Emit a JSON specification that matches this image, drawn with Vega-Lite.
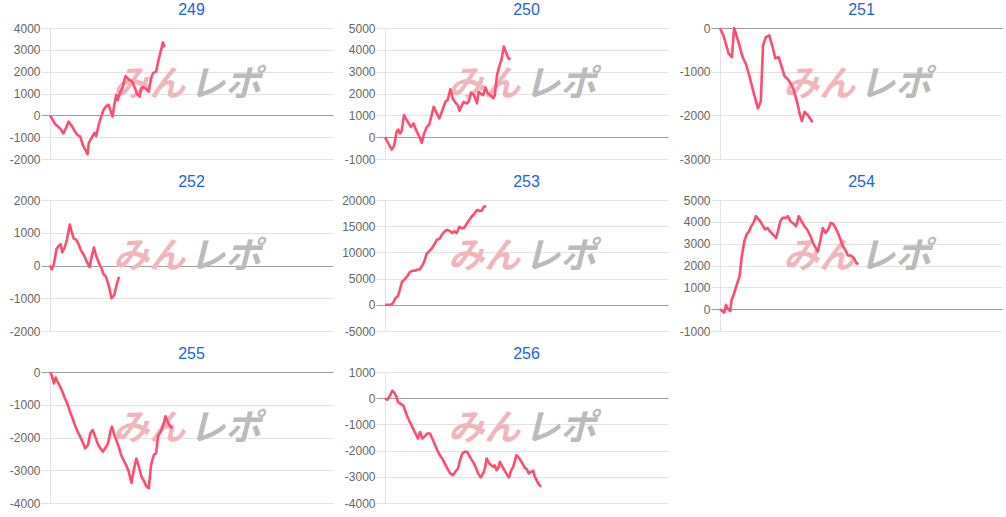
{
  "$schema": "https://vega.github.io/schema/vega-lite/v6.json",
  "padding": {"left": 5, "top": 2, "right": 0, "bottom": 0},
  "background": "white",
  "config": {
    "view": {"stroke": null},
    "title": {"font": "Liberation Sans", "fontSize": 16, "fontWeight": "normal", "color": "#1a66d9", "offset": 4},
    "axisY": {
      "grid": true,
      "gridColor": {"condition": {"test": "datum.value === 0", "value": "#9e9e9e"}, "value": "#e3e3e3"},
      "tickColor": {"condition": {"test": "datum.value === 0", "value": "#9e9e9e"}, "value": "#e3e3e3"},
      "tickSize": 9,
      "domainColor": "#e3e3e3",
      "labelColor": "#666666",
      "labelFont": "Liberation Sans",
      "labelFontSize": 12,
      "labelPadding": 1,
      "labelOverlap": false,
      "labelBound": false,
      "labelExpr": "'' + datum.value",
      "title": null,
      "minExtent": 45,
      "maxExtent": 45
    }
  },
  "columns": 3,
  "spacing": {"row": 9, "column": 7},
  "datasets": {
    "s249": [
      {"x": 0, "v": 0}, {"x": 0.9, "v": -200}, {"x": 1.8, "v": -400}, {"x": 2.6, "v": -490}, {"x": 3.6, "v": -600}, {"x": 4.7, "v": -830}, {"x": 5.6, "v": -600}, {"x": 6.5, "v": -290}, {"x": 7.7, "v": -490}, {"x": 8.9, "v": -750}, {"x": 9.7, "v": -900}, {"x": 10.7, "v": -980}, {"x": 11.6, "v": -1360}, {"x": 12.4, "v": -1560}, {"x": 13.3, "v": -1780}, {"x": 13.7, "v": -1260}, {"x": 14.8, "v": -1010}, {"x": 15.7, "v": -800}, {"x": 16.3, "v": -950}, {"x": 17.2, "v": -440}, {"x": 18.1, "v": -60}, {"x": 18.9, "v": 245}, {"x": 19.9, "v": 430}, {"x": 20.7, "v": 475}, {"x": 21.5, "v": 170}, {"x": 22.1, "v": -60}, {"x": 22.7, "v": 475}, {"x": 23.4, "v": 935}, {"x": 23.9, "v": 700}, {"x": 24.9, "v": 1090}, {"x": 25.6, "v": 1240}, {"x": 26.3, "v": 1620}, {"x": 26.7, "v": 1800}, {"x": 27.8, "v": 1650}, {"x": 29.0, "v": 1550}, {"x": 29.9, "v": 1290}, {"x": 30.8, "v": 965}, {"x": 31.7, "v": 860}, {"x": 32.2, "v": 1240}, {"x": 32.9, "v": 1290}, {"x": 34.1, "v": 1195}, {"x": 34.9, "v": 1090}, {"x": 35.7, "v": 1700}, {"x": 36.4, "v": 1930}, {"x": 37.5, "v": 2000}, {"x": 38.1, "v": 2390}, {"x": 39.1, "v": 2920}, {"x": 39.9, "v": 3340}, {"x": 40.5, "v": 3110}
    ],
    "s250": [
      {"x": 0, "v": 0}, {"x": 1.2, "v": -290}, {"x": 2.4, "v": -570}, {"x": 3.2, "v": -410}, {"x": 4.1, "v": 245}, {"x": 4.7, "v": 350}, {"x": 5.3, "v": 170}, {"x": 5.9, "v": 290}, {"x": 6.7, "v": 1010}, {"x": 7.7, "v": 780}, {"x": 9.1, "v": 475}, {"x": 10.1, "v": 630}, {"x": 11.0, "v": 320}, {"x": 12.2, "v": 0}, {"x": 13.0, "v": -260}, {"x": 13.8, "v": 170}, {"x": 14.8, "v": 475}, {"x": 15.7, "v": 600}, {"x": 17.2, "v": 1390}, {"x": 18.3, "v": 1090}, {"x": 19.2, "v": 860}, {"x": 20.1, "v": 1160}, {"x": 21.3, "v": 1620}, {"x": 22.1, "v": 1700}, {"x": 23.1, "v": 2190}, {"x": 23.9, "v": 1780}, {"x": 24.9, "v": 1580}, {"x": 25.7, "v": 1470}, {"x": 26.3, "v": 1210}, {"x": 26.9, "v": 1390}, {"x": 27.8, "v": 1620}, {"x": 28.8, "v": 1550}, {"x": 29.6, "v": 1620}, {"x": 30.4, "v": 2040}, {"x": 31.4, "v": 1930}, {"x": 32.5, "v": 1550}, {"x": 33.1, "v": 2080}, {"x": 33.7, "v": 2000}, {"x": 34.7, "v": 1930}, {"x": 35.5, "v": 2280}, {"x": 36.3, "v": 2000}, {"x": 37.3, "v": 1930}, {"x": 38.2, "v": 1780}, {"x": 38.8, "v": 1930}, {"x": 39.6, "v": 2850}, {"x": 40.2, "v": 3160}, {"x": 41.2, "v": 3570}, {"x": 42.0, "v": 4150}, {"x": 42.8, "v": 3870}, {"x": 43.6, "v": 3610}, {"x": 44.4, "v": 3570}
    ],
    "s251": [
      {"x": 0, "v": 0}, {"x": 1.2, "v": -170}, {"x": 2.4, "v": -430}, {"x": 3.0, "v": -580}, {"x": 4.2, "v": -670}, {"x": 5.0, "v": 0}, {"x": 6.0, "v": -210}, {"x": 7.2, "v": -480}, {"x": 8.0, "v": -670}, {"x": 9.2, "v": -830}, {"x": 10.4, "v": -1100}, {"x": 11.6, "v": -1410}, {"x": 12.6, "v": -1650}, {"x": 13.4, "v": -1840}, {"x": 14.4, "v": -1690}, {"x": 15.2, "v": -400}, {"x": 16.2, "v": -210}, {"x": 17.4, "v": -170}, {"x": 18.6, "v": -440}, {"x": 19.5, "v": -690}, {"x": 20.7, "v": -670}, {"x": 21.9, "v": -910}, {"x": 22.8, "v": -1100}, {"x": 24.0, "v": -1180}, {"x": 25.1, "v": -1290}, {"x": 26.0, "v": -1410}, {"x": 27.2, "v": -1680}, {"x": 28.1, "v": -1950}, {"x": 28.9, "v": -2130}, {"x": 29.9, "v": -1920}, {"x": 31.1, "v": -2000}, {"x": 32.7, "v": -2160}
    ],
    "s252": [
      {"x": 0, "v": 0}, {"x": 0.6, "v": -120}, {"x": 1.4, "v": 50}, {"x": 2.3, "v": 500}, {"x": 3.1, "v": 600}, {"x": 3.8, "v": 650}, {"x": 4.3, "v": 400}, {"x": 5.2, "v": 550}, {"x": 6.0, "v": 800}, {"x": 7.0, "v": 1250}, {"x": 7.6, "v": 1050}, {"x": 8.4, "v": 820}, {"x": 9.3, "v": 780}, {"x": 10.1, "v": 650}, {"x": 11.0, "v": 450}, {"x": 12.0, "v": 320}, {"x": 12.8, "v": 150}, {"x": 14.0, "v": -50}, {"x": 14.8, "v": 300}, {"x": 15.5, "v": 550}, {"x": 16.3, "v": 300}, {"x": 17.4, "v": 50}, {"x": 18.3, "v": -100}, {"x": 18.8, "v": -250}, {"x": 19.8, "v": -350}, {"x": 20.9, "v": -650}, {"x": 21.7, "v": -1000}, {"x": 22.7, "v": -900}, {"x": 23.5, "v": -600}, {"x": 24.4, "v": -350}
    ],
    "s253": [
      {"x": 0, "v": 0}, {"x": 1.2, "v": 0}, {"x": 2.2, "v": 0}, {"x": 3.0, "v": 500}, {"x": 3.6, "v": 1200}, {"x": 4.6, "v": 1700}, {"x": 5.2, "v": 2800}, {"x": 6.0, "v": 4400}, {"x": 7.0, "v": 4900}, {"x": 7.8, "v": 5400}, {"x": 8.7, "v": 6200}, {"x": 9.6, "v": 6500}, {"x": 10.6, "v": 6500}, {"x": 11.4, "v": 6700}, {"x": 12.3, "v": 6800}, {"x": 13.3, "v": 7600}, {"x": 14.1, "v": 8600}, {"x": 14.7, "v": 9700}, {"x": 15.7, "v": 10300}, {"x": 16.6, "v": 10800}, {"x": 17.5, "v": 11600}, {"x": 18.3, "v": 12400}, {"x": 19.3, "v": 12600}, {"x": 20.1, "v": 13400}, {"x": 21.1, "v": 14000}, {"x": 21.9, "v": 14300}, {"x": 22.9, "v": 14100}, {"x": 23.7, "v": 13700}, {"x": 24.5, "v": 14000}, {"x": 25.3, "v": 13700}, {"x": 26.3, "v": 14900}, {"x": 27.1, "v": 14600}, {"x": 28.0, "v": 14700}, {"x": 28.9, "v": 15500}, {"x": 29.9, "v": 16300}, {"x": 30.7, "v": 16900}, {"x": 31.6, "v": 17400}, {"x": 32.5, "v": 18100}, {"x": 33.4, "v": 17900}, {"x": 34.3, "v": 18000}, {"x": 34.9, "v": 18700}, {"x": 35.8, "v": 18800}
    ],
    "s254": [
      {"x": 0, "v": 0}, {"x": 0.8, "v": -90}, {"x": 1.5, "v": -150}, {"x": 2.1, "v": 200}, {"x": 2.7, "v": 30}, {"x": 3.6, "v": -90}, {"x": 4.1, "v": 420}, {"x": 5.0, "v": 720}, {"x": 5.9, "v": 1110}, {"x": 6.9, "v": 1500}, {"x": 7.7, "v": 2420}, {"x": 8.6, "v": 3110}, {"x": 9.5, "v": 3450}, {"x": 10.3, "v": 3570}, {"x": 11.0, "v": 3800}, {"x": 11.8, "v": 3950}, {"x": 12.7, "v": 4260}, {"x": 13.4, "v": 4150}, {"x": 14.2, "v": 4030}, {"x": 15.0, "v": 3850}, {"x": 16.0, "v": 3650}, {"x": 16.8, "v": 3720}, {"x": 17.6, "v": 3570}, {"x": 18.7, "v": 3420}, {"x": 19.8, "v": 3260}, {"x": 20.5, "v": 3570}, {"x": 21.3, "v": 4030}, {"x": 22.1, "v": 4180}, {"x": 23.1, "v": 4180}, {"x": 24.0, "v": 4260}, {"x": 24.9, "v": 4030}, {"x": 25.7, "v": 3950}, {"x": 26.9, "v": 3800}, {"x": 27.8, "v": 4260}, {"x": 28.8, "v": 4030}, {"x": 29.8, "v": 3800}, {"x": 30.8, "v": 3650}, {"x": 32.0, "v": 3340}, {"x": 32.9, "v": 3030}, {"x": 33.7, "v": 2830}, {"x": 34.6, "v": 2650}, {"x": 35.5, "v": 3180}, {"x": 36.3, "v": 3720}, {"x": 37.3, "v": 3490}, {"x": 38.2, "v": 3650}, {"x": 39.1, "v": 3950}, {"x": 40.0, "v": 3900}, {"x": 40.8, "v": 3720}, {"x": 41.7, "v": 3490}, {"x": 42.6, "v": 3180}, {"x": 43.4, "v": 2880}, {"x": 44.4, "v": 2680}, {"x": 45.2, "v": 2460}, {"x": 46.2, "v": 2460}, {"x": 47.3, "v": 2340}, {"x": 48.2, "v": 2110}, {"x": 48.9, "v": 2060}
    ],
    "s255": [
      {"x": 0, "v": 0}, {"x": 0.6, "v": -100}, {"x": 1.4, "v": -350}, {"x": 2.0, "v": -170}, {"x": 2.7, "v": -300}, {"x": 3.6, "v": -450}, {"x": 4.4, "v": -610}, {"x": 5.3, "v": -810}, {"x": 6.3, "v": -1010}, {"x": 7.1, "v": -1220}, {"x": 8.0, "v": -1420}, {"x": 8.9, "v": -1650}, {"x": 9.8, "v": -1820}, {"x": 10.7, "v": -1980}, {"x": 11.5, "v": -2130}, {"x": 12.4, "v": -2330}, {"x": 13.4, "v": -2230}, {"x": 14.2, "v": -1880}, {"x": 15.1, "v": -1770}, {"x": 16.0, "v": -1980}, {"x": 16.8, "v": -2180}, {"x": 17.8, "v": -2330}, {"x": 18.7, "v": -2430}, {"x": 19.5, "v": -2330}, {"x": 20.5, "v": -2180}, {"x": 21.3, "v": -1830}, {"x": 21.9, "v": -1670}, {"x": 22.6, "v": -1880}, {"x": 23.4, "v": -2080}, {"x": 24.3, "v": -2280}, {"x": 25.1, "v": -2530}, {"x": 26.0, "v": -2690}, {"x": 26.9, "v": -2840}, {"x": 27.8, "v": -3040}, {"x": 28.8, "v": -3390}, {"x": 29.6, "v": -2990}, {"x": 30.5, "v": -2640}, {"x": 31.4, "v": -2890}, {"x": 32.3, "v": -3190}, {"x": 33.1, "v": -3310}, {"x": 34.0, "v": -3480}, {"x": 34.9, "v": -3550}, {"x": 35.7, "v": -2840}, {"x": 36.7, "v": -2530}, {"x": 37.5, "v": -2480}, {"x": 38.2, "v": -1950}, {"x": 39.1, "v": -1820}, {"x": 39.9, "v": -1650}, {"x": 40.8, "v": -1350}, {"x": 41.7, "v": -1550}, {"x": 42.4, "v": -1650}, {"x": 43.2, "v": -1720}
    ],
    "s256": [
      {"x": 0, "v": 0}, {"x": 0.8, "v": -60}, {"x": 1.8, "v": 100}, {"x": 2.6, "v": 290}, {"x": 3.4, "v": 190}, {"x": 4.1, "v": 40}, {"x": 4.6, "v": -150}, {"x": 5.5, "v": -215}, {"x": 6.5, "v": -280}, {"x": 7.3, "v": -530}, {"x": 8.2, "v": -785}, {"x": 9.1, "v": -975}, {"x": 9.9, "v": -1160}, {"x": 10.8, "v": -1350}, {"x": 11.6, "v": -1540}, {"x": 12.4, "v": -1290}, {"x": 13.2, "v": -1540}, {"x": 14.0, "v": -1455}, {"x": 14.9, "v": -1350}, {"x": 15.9, "v": -1350}, {"x": 16.7, "v": -1540}, {"x": 17.5, "v": -1735}, {"x": 18.5, "v": -1990}, {"x": 19.4, "v": -2180}, {"x": 20.2, "v": -2300}, {"x": 21.1, "v": -2490}, {"x": 22.0, "v": -2680}, {"x": 22.9, "v": -2850}, {"x": 24.0, "v": -2940}, {"x": 24.9, "v": -2810}, {"x": 25.8, "v": -2680}, {"x": 26.5, "v": -2370}, {"x": 27.3, "v": -2110}, {"x": 28.1, "v": -2050}, {"x": 29.1, "v": -2050}, {"x": 30.0, "v": -2240}, {"x": 31.1, "v": -2430}, {"x": 32.0, "v": -2620}, {"x": 32.9, "v": -2870}, {"x": 33.8, "v": -3020}, {"x": 34.7, "v": -2870}, {"x": 35.3, "v": -2680}, {"x": 35.9, "v": -2300}, {"x": 36.7, "v": -2470}, {"x": 37.5, "v": -2560}, {"x": 38.2, "v": -2620}, {"x": 38.8, "v": -2560}, {"x": 39.4, "v": -2750}, {"x": 40.0, "v": -2680}, {"x": 40.6, "v": -2430}, {"x": 41.4, "v": -2590}, {"x": 42.2, "v": -2750}, {"x": 43.2, "v": -2940}, {"x": 43.8, "v": -3020}, {"x": 44.6, "v": -2750}, {"x": 45.3, "v": -2620}, {"x": 45.8, "v": -2430}, {"x": 46.4, "v": -2180}, {"x": 47.1, "v": -2240}, {"x": 47.9, "v": -2370}, {"x": 48.7, "v": -2520}, {"x": 49.4, "v": -2650}, {"x": 50.2, "v": -2720}, {"x": 50.8, "v": -2870}, {"x": 51.6, "v": -2810}, {"x": 52.4, "v": -2770}, {"x": 52.9, "v": -2980}, {"x": 53.8, "v": -3190}, {"x": 54.6, "v": -3320}, {"x": 55.1, "v": -3380}
    ]
  },
  "concat": [
    {
      "title": "249", "width": 283, "height": 131,
      "layer": [
        {"data": {"values": [{}]}, "mark": {"type": "text", "text": "みん", "font": "Noto Sans CJK JP", "fontSize": 36, "fontWeight": "bold", "fontStyle": "italic", "color": "#f1b6bb", "align": "right", "baseline": "middle", "dx": -2},
         "encoding": {"x": {"datum": 48.5, "type": "quantitative", "scale": {"domain": [0, 100]}, "axis": null}, "y": {"datum": 1390, "type": "quantitative", "scale": {"domain": [-2000, 4000], "nice": false, "zero": false}, "axis": {"values": [-2000, -1000, 0, 1000, 2000, 3000, 4000]}}}},
        {"data": {"values": [{}]}, "mark": {"type": "text", "text": "レポ", "font": "Noto Sans CJK JP", "fontSize": 36, "fontWeight": "bold", "fontStyle": "italic", "color": "#bbbbbb", "align": "left", "baseline": "middle", "dx": 2},
         "encoding": {"x": {"datum": 48.5, "type": "quantitative", "axis": null}, "y": {"datum": 1390, "type": "quantitative", "axis": {"values": [-2000, -1000, 0, 1000, 2000, 3000, 4000]}}}},
        {"data": {"name": "s249"}, "mark": {"type": "line", "color": "#ff4d6d", "strokeWidth": 2.6, "strokeJoin": "round"},
         "encoding": {"x": {"field": "x", "type": "quantitative", "scale": {"domain": [0, 100]}, "axis": null},
                      "y": {"field": "v", "type": "quantitative", "scale": {"domain": [-2000, 4000], "nice": false, "zero": false}, "axis": {"values": [-2000, -1000, 0, 1000, 2000, 3000, 4000]}}}}
      ]
    },
    {
      "title": "250", "width": 283, "height": 131,
      "layer": [
        {"data": {"values": [{}]}, "mark": {"type": "text", "text": "みん", "font": "Noto Sans CJK JP", "fontSize": 36, "fontWeight": "bold", "fontStyle": "italic", "color": "#f1b6bb", "align": "right", "baseline": "middle", "dx": -2},
         "encoding": {"x": {"datum": 48.5, "type": "quantitative", "scale": {"domain": [0, 100]}, "axis": null}, "y": {"datum": 2390, "type": "quantitative", "scale": {"domain": [-1000, 5000], "nice": false, "zero": false}, "axis": {"values": [-1000, 0, 1000, 2000, 3000, 4000, 5000]}}}},
        {"data": {"values": [{}]}, "mark": {"type": "text", "text": "レポ", "font": "Noto Sans CJK JP", "fontSize": 36, "fontWeight": "bold", "fontStyle": "italic", "color": "#bbbbbb", "align": "left", "baseline": "middle", "dx": 2},
         "encoding": {"x": {"datum": 48.5, "type": "quantitative", "axis": null}, "y": {"datum": 2390, "type": "quantitative", "axis": {"values": [-1000, 0, 1000, 2000, 3000, 4000, 5000]}}}},
        {"data": {"name": "s250"}, "mark": {"type": "line", "color": "#ff4d6d", "strokeWidth": 2.6, "strokeJoin": "round"},
         "encoding": {"x": {"field": "x", "type": "quantitative", "scale": {"domain": [0, 100]}, "axis": null},
                      "y": {"field": "v", "type": "quantitative", "scale": {"domain": [-1000, 5000], "nice": false, "zero": false}, "axis": {"values": [-1000, 0, 1000, 2000, 3000, 4000, 5000]}}}}
      ]
    },
    {
      "title": "251", "width": 283, "height": 131,
      "layer": [
        {"data": {"values": [{}]}, "mark": {"type": "text", "text": "みん", "font": "Noto Sans CJK JP", "fontSize": 36, "fontWeight": "bold", "fontStyle": "italic", "color": "#f1b6bb", "align": "right", "baseline": "middle", "dx": -2},
         "encoding": {"x": {"datum": 48.5, "type": "quantitative", "scale": {"domain": [0, 100]}, "axis": null}, "y": {"datum": -1305, "type": "quantitative", "scale": {"domain": [-3000, 0], "nice": false, "zero": false}, "axis": {"values": [-3000, -2000, -1000, 0]}}}},
        {"data": {"values": [{}]}, "mark": {"type": "text", "text": "レポ", "font": "Noto Sans CJK JP", "fontSize": 36, "fontWeight": "bold", "fontStyle": "italic", "color": "#bbbbbb", "align": "left", "baseline": "middle", "dx": 2},
         "encoding": {"x": {"datum": 48.5, "type": "quantitative", "axis": null}, "y": {"datum": -1305, "type": "quantitative", "axis": {"values": [-3000, -2000, -1000, 0]}}}},
        {"data": {"name": "s251"}, "mark": {"type": "line", "color": "#ff4d6d", "strokeWidth": 2.6, "strokeJoin": "round"},
         "encoding": {"x": {"field": "x", "type": "quantitative", "scale": {"domain": [0, 100]}, "axis": null},
                      "y": {"field": "v", "type": "quantitative", "scale": {"domain": [-3000, 0], "nice": false, "zero": false}, "axis": {"values": [-3000, -2000, -1000, 0]}}}}
      ]
    },
    {
      "title": "252", "width": 283, "height": 131,
      "layer": [
        {"data": {"values": [{}]}, "mark": {"type": "text", "text": "みん", "font": "Noto Sans CJK JP", "fontSize": 36, "fontWeight": "bold", "fontStyle": "italic", "color": "#f1b6bb", "align": "right", "baseline": "middle", "dx": -2},
         "encoding": {"x": {"datum": 48.5, "type": "quantitative", "scale": {"domain": [0, 100]}, "axis": null}, "y": {"datum": 260, "type": "quantitative", "scale": {"domain": [-2000, 2000], "nice": false, "zero": false}, "axis": {"values": [-2000, -1000, 0, 1000, 2000]}}}},
        {"data": {"values": [{}]}, "mark": {"type": "text", "text": "レポ", "font": "Noto Sans CJK JP", "fontSize": 36, "fontWeight": "bold", "fontStyle": "italic", "color": "#bbbbbb", "align": "left", "baseline": "middle", "dx": 2},
         "encoding": {"x": {"datum": 48.5, "type": "quantitative", "axis": null}, "y": {"datum": 260, "type": "quantitative", "axis": {"values": [-2000, -1000, 0, 1000, 2000]}}}},
        {"data": {"name": "s252"}, "mark": {"type": "line", "color": "#ff4d6d", "strokeWidth": 2.6, "strokeJoin": "round"},
         "encoding": {"x": {"field": "x", "type": "quantitative", "scale": {"domain": [0, 100]}, "axis": null},
                      "y": {"field": "v", "type": "quantitative", "scale": {"domain": [-2000, 2000], "nice": false, "zero": false}, "axis": {"values": [-2000, -1000, 0, 1000, 2000]}}}}
      ]
    },
    {
      "title": "253", "width": 283, "height": 131,
      "layer": [
        {"data": {"values": [{}]}, "mark": {"type": "text", "text": "みん", "font": "Noto Sans CJK JP", "fontSize": 36, "fontWeight": "bold", "fontStyle": "italic", "color": "#f1b6bb", "align": "right", "baseline": "middle", "dx": -2},
         "encoding": {"x": {"datum": 48.5, "type": "quantitative", "scale": {"domain": [0, 100]}, "axis": null}, "y": {"datum": 9125, "type": "quantitative", "scale": {"domain": [-5000, 20000], "nice": false, "zero": false}, "axis": {"values": [-5000, 0, 5000, 10000, 15000, 20000]}}}},
        {"data": {"values": [{}]}, "mark": {"type": "text", "text": "レポ", "font": "Noto Sans CJK JP", "fontSize": 36, "fontWeight": "bold", "fontStyle": "italic", "color": "#bbbbbb", "align": "left", "baseline": "middle", "dx": 2},
         "encoding": {"x": {"datum": 48.5, "type": "quantitative", "axis": null}, "y": {"datum": 9125, "type": "quantitative", "axis": {"values": [-5000, 0, 5000, 10000, 15000, 20000]}}}},
        {"data": {"name": "s253"}, "mark": {"type": "line", "color": "#ff4d6d", "strokeWidth": 2.6, "strokeJoin": "round"},
         "encoding": {"x": {"field": "x", "type": "quantitative", "scale": {"domain": [0, 100]}, "axis": null},
                      "y": {"field": "v", "type": "quantitative", "scale": {"domain": [-5000, 20000], "nice": false, "zero": false}, "axis": {"values": [-5000, 0, 5000, 10000, 15000, 20000]}}}}
      ]
    },
    {
      "title": "254", "width": 283, "height": 131,
      "layer": [
        {"data": {"values": [{}]}, "mark": {"type": "text", "text": "みん", "font": "Noto Sans CJK JP", "fontSize": 36, "fontWeight": "bold", "fontStyle": "italic", "color": "#f1b6bb", "align": "right", "baseline": "middle", "dx": -2},
         "encoding": {"x": {"datum": 48.5, "type": "quantitative", "scale": {"domain": [0, 100]}, "axis": null}, "y": {"datum": 2390, "type": "quantitative", "scale": {"domain": [-1000, 5000], "nice": false, "zero": false}, "axis": {"values": [-1000, 0, 1000, 2000, 3000, 4000, 5000]}}}},
        {"data": {"values": [{}]}, "mark": {"type": "text", "text": "レポ", "font": "Noto Sans CJK JP", "fontSize": 36, "fontWeight": "bold", "fontStyle": "italic", "color": "#bbbbbb", "align": "left", "baseline": "middle", "dx": 2},
         "encoding": {"x": {"datum": 48.5, "type": "quantitative", "axis": null}, "y": {"datum": 2390, "type": "quantitative", "axis": {"values": [-1000, 0, 1000, 2000, 3000, 4000, 5000]}}}},
        {"data": {"name": "s254"}, "mark": {"type": "line", "color": "#ff4d6d", "strokeWidth": 2.6, "strokeJoin": "round"},
         "encoding": {"x": {"field": "x", "type": "quantitative", "scale": {"domain": [0, 100]}, "axis": null},
                      "y": {"field": "v", "type": "quantitative", "scale": {"domain": [-1000, 5000], "nice": false, "zero": false}, "axis": {"values": [-1000, 0, 1000, 2000, 3000, 4000, 5000]}}}}
      ]
    },
    {
      "title": "255", "width": 283, "height": 131,
      "layer": [
        {"data": {"values": [{}]}, "mark": {"type": "text", "text": "みん", "font": "Noto Sans CJK JP", "fontSize": 36, "fontWeight": "bold", "fontStyle": "italic", "color": "#f1b6bb", "align": "right", "baseline": "middle", "dx": -2},
         "encoding": {"x": {"datum": 48.5, "type": "quantitative", "scale": {"domain": [0, 100]}, "axis": null}, "y": {"datum": -1740, "type": "quantitative", "scale": {"domain": [-4000, 0], "nice": false, "zero": false}, "axis": {"values": [-4000, -3000, -2000, -1000, 0]}}}},
        {"data": {"values": [{}]}, "mark": {"type": "text", "text": "レポ", "font": "Noto Sans CJK JP", "fontSize": 36, "fontWeight": "bold", "fontStyle": "italic", "color": "#bbbbbb", "align": "left", "baseline": "middle", "dx": 2},
         "encoding": {"x": {"datum": 48.5, "type": "quantitative", "axis": null}, "y": {"datum": -1740, "type": "quantitative", "axis": {"values": [-4000, -3000, -2000, -1000, 0]}}}},
        {"data": {"name": "s255"}, "mark": {"type": "line", "color": "#ff4d6d", "strokeWidth": 2.6, "strokeJoin": "round"},
         "encoding": {"x": {"field": "x", "type": "quantitative", "scale": {"domain": [0, 100]}, "axis": null},
                      "y": {"field": "v", "type": "quantitative", "scale": {"domain": [-4000, 0], "nice": false, "zero": false}, "axis": {"values": [-4000, -3000, -2000, -1000, 0]}}}}
      ]
    },
    {
      "title": "256", "width": 283, "height": 131,
      "layer": [
        {"data": {"values": [{}]}, "mark": {"type": "text", "text": "みん", "font": "Noto Sans CJK JP", "fontSize": 36, "fontWeight": "bold", "fontStyle": "italic", "color": "#f1b6bb", "align": "right", "baseline": "middle", "dx": -2},
         "encoding": {"x": {"datum": 48.5, "type": "quantitative", "scale": {"domain": [0, 100]}, "axis": null}, "y": {"datum": -1175, "type": "quantitative", "scale": {"domain": [-4000, 1000], "nice": false, "zero": false}, "axis": {"values": [-4000, -3000, -2000, -1000, 0, 1000]}}}},
        {"data": {"values": [{}]}, "mark": {"type": "text", "text": "レポ", "font": "Noto Sans CJK JP", "fontSize": 36, "fontWeight": "bold", "fontStyle": "italic", "color": "#bbbbbb", "align": "left", "baseline": "middle", "dx": 2},
         "encoding": {"x": {"datum": 48.5, "type": "quantitative", "axis": null}, "y": {"datum": -1175, "type": "quantitative", "axis": {"values": [-4000, -3000, -2000, -1000, 0, 1000]}}}},
        {"data": {"name": "s256"}, "mark": {"type": "line", "color": "#ff4d6d", "strokeWidth": 2.6, "strokeJoin": "round"},
         "encoding": {"x": {"field": "x", "type": "quantitative", "scale": {"domain": [0, 100]}, "axis": null},
                      "y": {"field": "v", "type": "quantitative", "scale": {"domain": [-4000, 1000], "nice": false, "zero": false}, "axis": {"values": [-4000, -3000, -2000, -1000, 0, 1000]}}}}
      ]
    }
  ]
}
